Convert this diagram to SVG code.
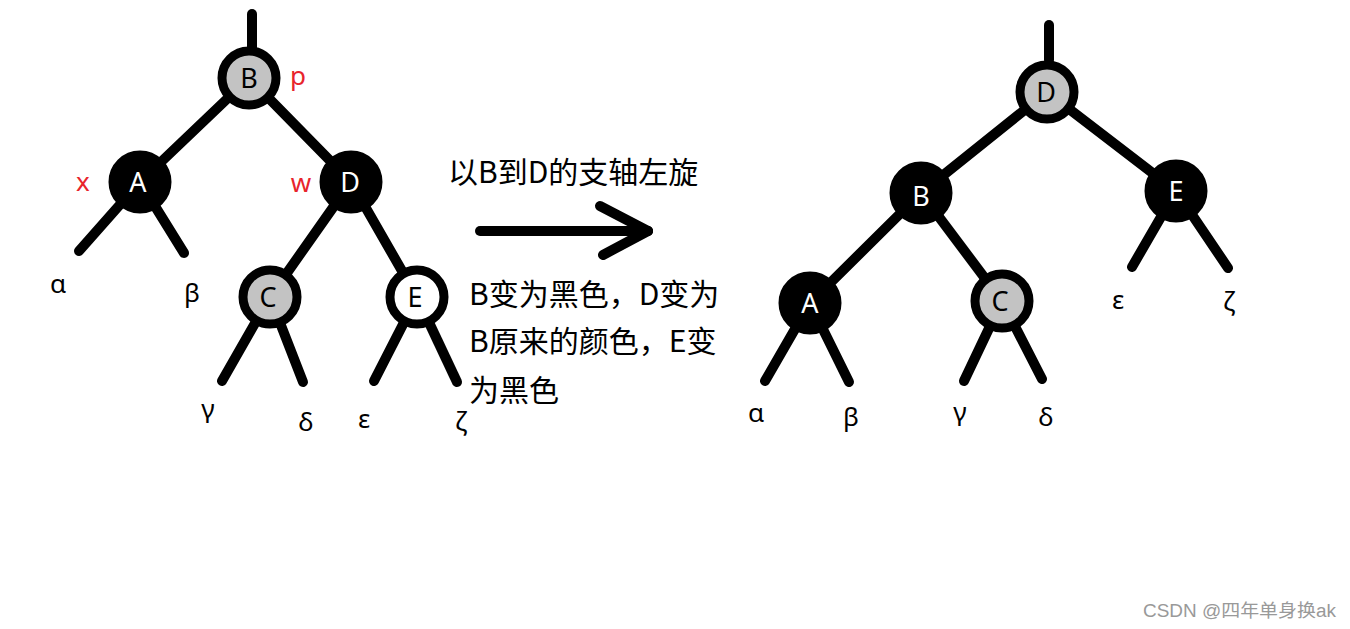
<svg xmlns="http://www.w3.org/2000/svg" width="1350" height="629" viewBox="0 0 1350 629">
<style>
.edge{stroke:#000;stroke-width:10;stroke-linecap:round;fill:none}
.nb{fill:#000;stroke:#000;stroke-width:9}
.ng{fill:#c3c3c3;stroke:#000;stroke-width:9}
.nw{fill:#fff;stroke:#000;stroke-width:9}
.lw{font-family:"Noto Sans","Open Sans",sans-serif;font-size:27px;fill:#fff;text-anchor:middle}
.lk{font-family:"Noto Sans","Open Sans",sans-serif;font-size:27px;fill:#000;text-anchor:middle}
.gr{font-family:"Noto Sans","DejaVu Sans",sans-serif;font-size:26px;fill:#000;text-anchor:middle}
.red{font-family:"Noto Sans","Open Sans",sans-serif;font-size:26px;fill:#e8242c;text-anchor:middle}
.cn{font-family:"Noto Sans CJK SC",sans-serif;font-size:30px;fill:#000}
.wm{font-family:"Liberation Sans","Noto Sans CJK SC",sans-serif;font-size:18px;fill:#999}
</style>
<rect width="1350" height="629" fill="#fff"/>
<g id="connectors">
<line class="edge" x1="252" y1="14" x2="252" y2="50"/>
<line class="edge" x1="249" y1="78" x2="140" y2="182"/>
<line class="edge" x1="249" y1="78" x2="351" y2="182"/>
<line class="edge" x1="140" y1="182" x2="79" y2="251"/>
<line class="edge" x1="140" y1="182" x2="184" y2="253"/>
<line class="edge" x1="351" y1="182" x2="270" y2="297"/>
<line class="edge" x1="351" y1="182" x2="417" y2="297"/>
<line class="edge" x1="270" y1="297" x2="222" y2="381"/>
<line class="edge" x1="270" y1="297" x2="303" y2="382"/>
<line class="edge" x1="417" y1="297" x2="374" y2="381"/>
<line class="edge" x1="417" y1="297" x2="457" y2="382"/>
<line class="edge" x1="480" y1="231" x2="648" y2="231"/>
<line class="edge" x1="600" y1="206" x2="648" y2="231"/>
<line class="edge" x1="603" y1="255" x2="648" y2="231"/>
<line class="edge" x1="1049" y1="25" x2="1049" y2="60"/>
<line class="edge" x1="1047" y1="92" x2="921" y2="193"/>
<line class="edge" x1="1047" y1="92" x2="1176" y2="191"/>
<line class="edge" x1="1176" y1="191" x2="1132" y2="267"/>
<line class="edge" x1="1176" y1="191" x2="1228" y2="268"/>
<line class="edge" x1="921" y1="193" x2="810" y2="303"/>
<line class="edge" x1="921" y1="193" x2="1002" y2="301"/>
<line class="edge" x1="810" y1="303" x2="765" y2="381"/>
<line class="edge" x1="810" y1="303" x2="849" y2="382"/>
<line class="edge" x1="1002" y1="301" x2="964" y2="381"/>
<line class="edge" x1="1002" y1="301" x2="1042" y2="379"/>
</g>
<g id="L-B"><circle class="ng" cx="249" cy="78" r="27"/><text class="lk" x="249" y="88">B</text></g>
<g id="L-A"><circle class="nb" cx="140" cy="182" r="27"/><text class="lw" x="138" y="192">A</text></g>
<g id="L-D"><circle class="nb" cx="351" cy="182" r="27"/><text class="lw" x="350" y="192">D</text></g>
<g id="L-C"><circle class="ng" cx="270" cy="297" r="27"/><text class="lk" x="268" y="307">C</text></g>
<g id="L-E"><circle class="nw" cx="417" cy="297" r="27"/><text class="lk" x="415" y="307">E</text></g>
<g id="R-D"><circle class="ng" cx="1047" cy="92" r="27"/><text class="lk" x="1046" y="102">D</text></g>
<g id="R-B"><circle class="nb" cx="921" cy="193" r="27"/><text class="lw" x="921" y="206">B</text></g>
<g id="R-E"><circle class="nb" cx="1176" cy="191" r="27"/><text class="lw" x="1176" y="201">E</text></g>
<g id="R-A"><circle class="nb" cx="810" cy="303" r="27"/><text class="lw" x="810" y="313">A</text></g>
<g id="R-C"><circle class="ng" cx="1002" cy="301" r="27"/><text class="lk" x="1000" y="311">C</text></g>
<g id="labels">
<text class="red" x="298" y="85">p</text>
<text class="red" x="83" y="191">x</text>
<text class="red" x="301" y="192">w</text>
<text class="gr" x="58" y="293">α</text>
<text class="gr" x="192" y="302">β</text>
<text class="gr" x="208" y="418">γ</text>
<text class="gr" x="306" y="431">δ</text>
<text class="gr" x="364" y="428">ε</text>
<text class="gr" x="461" y="430">ζ</text>
<text class="gr" x="756" y="422">α</text>
<text class="gr" x="851" y="426">β</text>
<text class="gr" x="960" y="421">γ</text>
<text class="gr" x="1046" y="426">δ</text>
<text class="gr" x="1118" y="309">ε</text>
<text class="gr" x="1229" y="310">ζ</text>
<text class="cn" x="448" y="183">以B到D的支轴左旋</text>
<text class="cn" x="469" y="305">B变为黑色，D变为</text>
<text class="cn" x="469" y="352">B原来的颜色，E变</text>
<text class="cn" x="469" y="401">为黑色</text>
<text class="wm" x="1143" y="617" textLength="193" lengthAdjust="spacingAndGlyphs">CSDN @四年单身换ak</text>
</g>
</svg>
